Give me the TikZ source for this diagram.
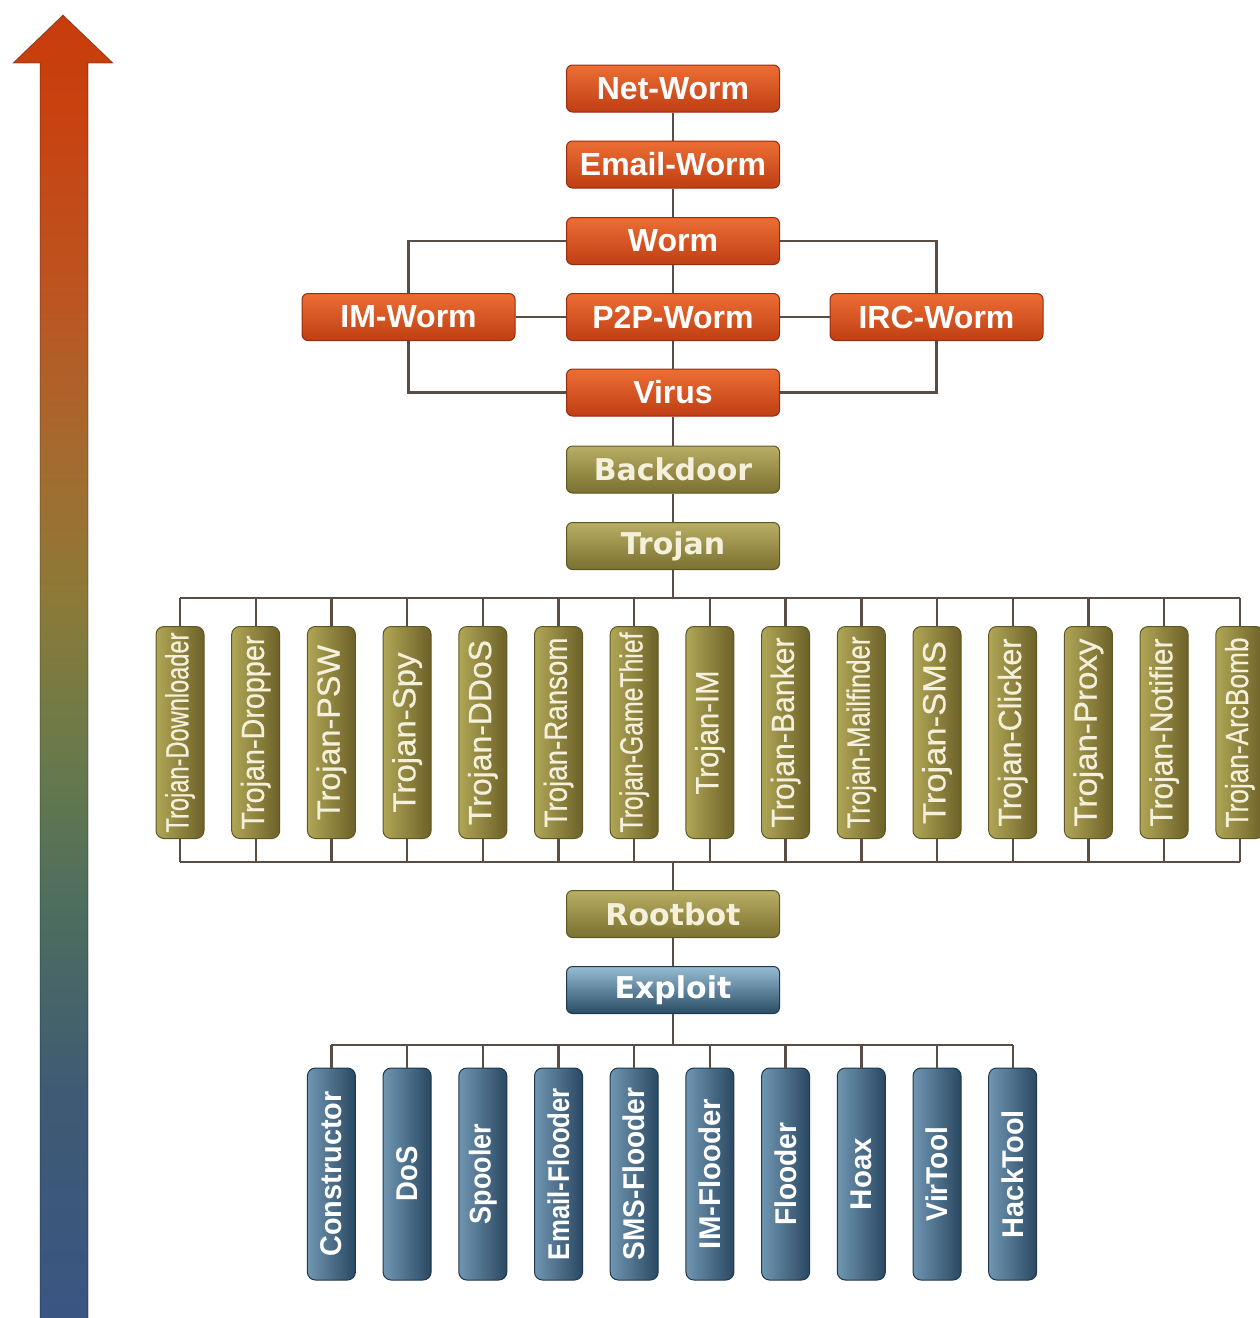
\documentclass[tikz,border=0pt]{standalone}
\usepackage{fontspec}
\usepackage{graphicx}
\setmainfont{Liberation Sans}
\newfontfamily\dvfont{DejaVu Sans}
\usetikzlibrary{shadings}
\definecolor{orT}{RGB}{236,110,52}
\definecolor{orB}{RGB}{192,62,20}
\definecolor{orD}{RGB}{150,45,15}
\definecolor{olT}{RGB}{184,174,100}
\definecolor{olB}{RGB}{122,112,48}
\definecolor{olD}{RGB}{95,87,35}
\definecolor{olTx}{RGB}{245,240,220}
\definecolor{blT}{RGB}{150,188,210}
\definecolor{blB}{RGB}{42,76,102}
\definecolor{blD}{RGB}{30,55,75}
\definecolor{vlL}{RGB}{176,166,86}
\definecolor{vlR}{RGB}{108,97,40}
\definecolor{vbL}{RGB}{112,150,178}
\definecolor{vbR}{RGB}{42,72,98}
\definecolor{lnk}{RGB}{90,78,68}
\definecolor{arB}{RGB}{58,85,130}
\definecolor{arC}{RGB}{62,90,116}
\definecolor{arD}{RGB}{78,110,94}
\definecolor{arE}{RGB}{106,122,74}
\definecolor{arF}{RGB}{140,122,56}
\definecolor{arG}{RGB}{165,106,46}
\definecolor{arH}{RGB}{188,85,34}
\definecolor{arI}{RGB}{200,65,15}
\definecolor{arJ}{RGB}{200,60,12}
\pgfdeclareverticalshading{arrowgrad}{100bp}{color(0bp)=(arB); color(25bp)=(arB); color(33.4bp)=(arC); color(41bp)=(arD); color(46.8bp)=(arE); color(52.6bp)=(arF); color(58.3bp)=(arG); color(64bp)=(arH); color(71.7bp)=(arI); color(75bp)=(arJ); color(100bp)=(arJ)}
\newcommand\vfit[2]{\resizebox{#1pt}{\height}{#2}}
\begin{document}
\begin{tikzpicture}[x=1pt,y=-1pt,
  link/.style={draw=lnk,line width=2.4pt},
  hbase/.style={rounded corners=6pt,minimum width=213pt,minimum height=47pt,inner sep=0pt,line width=1pt},
  orn/.style={hbase,top color=orT,bottom color=orB,draw=orD,text=white,font=\fontsize{32}{36}\selectfont\bfseries},
  olv/.style={hbase,top color=olT,bottom color=olB,draw=olD,text=olTx,font=\dvfont\fontsize{30}{34}\selectfont\bfseries},
  blu/.style={hbase,top color=blT,bottom color=blB,draw=blD,text=white,font=\dvfont\fontsize{30}{34}\selectfont\bfseries},
  vbase/.style={rounded corners=8pt,minimum width=48pt,minimum height=212pt,inner sep=0pt,line width=1pt},
  vol/.style={vbase,left color=vlL,right color=vlR,draw=olD},
  vbl/.style={vbase,left color=vbL,right color=vbR,draw=blD},
  vlabo/.style={rotate=90,inner sep=0pt,text=olTx,font=\fontsize{32}{36}\selectfont\addfontfeature{FakeBold=0.6}},
  vlabb/.style={rotate=90,inner sep=0pt,text=white,font=\fontsize{30}{34}\selectfont\bfseries}
]
\useasboundingbox (0,0) rectangle (1260,1318);
% gradient arrow
\shade[shading=arrowgrad] (40,1318) -- (40,63) -- (13,63) -- (63,15) -- (113,63) -- (88,63) -- (88,1318) -- cycle;
\draw[black,opacity=0.35,line width=0.8pt] (40,1318) -- (40,63) -- (13,63) -- (63,15) -- (113,63) -- (88,63) -- (88,1318);

% top column
\node[orn] (nw) at (673,88.5) {Net-Worm};
\node[orn] (ew) at (673,164.5) {Email-Worm};
\node[orn] (wm) at (673,241) {Worm};
\node[orn] (p2p) at (673,317) {P2P-Worm};
\node[orn] (im) at (408.5,317) {IM-Worm};
\node[orn] (irc) at (936.5,317) {IRC-Worm};
\node[orn] (vir) at (673,392.5) {Virus};
\node[olv] (bd) at (673,469.5) {Backdoor};
\node[olv] (tr) at (673,546) {Trojan};
\node[olv] (rb) at (673,914) {Rootbot};
\node[blu] (ex) at (673,990) {Exploit};

\draw[link] (nw) -- (ew);
\draw[link] (ew) -- (wm);
\draw[link] (wm) -- (p2p);
\draw[link] (p2p) -- (vir);
\draw[link] (vir) -- (bd);
\draw[link] (bd) -- (tr);
\draw[link] (im) -- (p2p);
\draw[link] (p2p) -- (irc);
\draw[link] (wm.west) -| (im.north);
\draw[link] (wm.east) -| (irc.north);
\draw[link] (vir.west) -| (im.south);
\draw[link] (vir.east) -| (irc.south);

% trojan row
\foreach \i/\L/\t in {0/200/Trojan-Downloader,1/194/Trojan-Dropper,2/175/Trojan-PSW,3/160/Trojan-Spy,4/185/Trojan-DDoS,5/190/Trojan-Ransom,6/200/Trojan-GameThief,7/124/Trojan-IM,8/190/Trojan-Banker,9/192/Trojan-Mailfinder,10/183/Trojan-SMS,11/188/Trojan-Clicker,12/188/Trojan-Proxy,13/188/Trojan-Notifier,14/190/Trojan-ArcBomb}{
  \node[vol] (t\i) at ({180+75.7*\i},732.5) {};
  \node[vlabo] (tl\i) at (t\i.center) {\vfit{\L}{\t}};
}
\coordinate (tbt) at (673,598);
\coordinate (tbb) at (673,862);
\draw[link] (tr.south) -- (tbt);
\draw[link] (t0.north |- tbt) -- (t14.north |- tbt);
\draw[link] (t0.south |- tbb) -- (t14.south |- tbb);
\foreach \i in {0,...,14}{
  \draw[link] (t\i.north |- tbt) -- (t\i.north);
  \draw[link] (t\i.south) -- (t\i.south |- tbb);
}
\draw[link] (tbb) -- (rb.north);
\draw[link] (rb) -- (ex);

% bottom row
\foreach \i/\L/\t in {2/165/Constructor,3/55/DoS,4/100/Spooler,5/172/Email-Flooder,6/173/SMS-Flooder,7/150/IM-Flooder,8/103/Flooder,9/72/Hoax,10/94/VirTool,11/128/HackTool}{
  \node[vbl] (b\i) at ({180+75.7*\i},1174) {};
  \node[vlabb] (bl\i) at (b\i.center) {\vfit{\L}{\t}};
}
\coordinate (eb) at (673,1045);
\draw[link] (ex.south) -- (eb);
\draw[link] (b2.north |- eb) -- (b11.north |- eb);
\foreach \i in {2,...,11}{
  \draw[link] (b\i.north |- eb) -- (b\i.north);
}
\end{tikzpicture}
\end{document}
